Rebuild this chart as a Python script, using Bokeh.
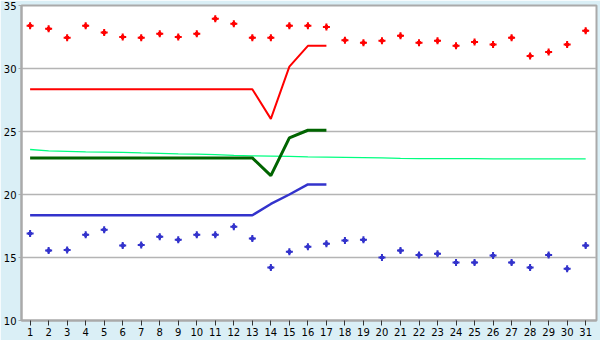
from bokeh.plotting import figure
from bokeh.models import Range1d, FixedTicker
from bokeh.embed import file_html
from bokeh.resources import INLINE

days = list(range(1, 32))
max_temps = [33.4, 33.15, 32.45, 33.4, 32.85, 32.5, 32.45, 32.75, 32.5, 32.75,
             33.95, 33.55, 32.45, 32.45, 33.4, 33.4, 33.3, 32.25, 32.05, 32.2,
             32.6, 32.05, 32.2, 31.8, 32.1, 31.9, 32.45, 31.0, 31.3, 31.9, 33.0]
min_temps = [16.9, 15.55, 15.6, 16.8, 17.2, 15.95, 16.0, 16.65, 16.4, 16.8,
             16.8, 17.45, 16.5, 14.2, 15.45, 15.85, 16.1, 16.35, 16.4, 15.0,
             15.55, 15.2, 15.3, 14.6, 14.6, 15.15, 14.6, 14.2, 15.2, 14.1, 15.95]
normal_mean = [23.57, 23.47, 23.43, 23.38, 23.36, 23.34, 23.30, 23.27, 23.22, 23.20,
               23.17, 23.10, 23.07, 23.05, 23.02, 22.98, 22.96, 22.94, 22.92, 22.90,
               22.87, 22.85, 22.85, 22.84, 22.84, 22.83, 22.83, 22.83, 22.82, 22.82, 22.82]
fc_days = list(range(1, 18))
fc_max = [28.35] * 13 + [26.0, 30.15, 31.8, 31.8]
fc_mean = [22.9] * 13 + [21.5, 24.5, 25.1, 25.1]
fc_min = [18.35] * 13 + [19.25, 20.0, 20.8, 20.8]

p = figure(width=600, height=340, frame_width=575, frame_height=315,
           output_backend="svg", toolbar_location=None,
           x_range=Range1d(0.535, 31.585), y_range=Range1d(10, 35),
           min_border_left=20, min_border_right=5, min_border_top=5, min_border_bottom=20)
p.border_fill_color = "#daeff6"
p.background_fill_color = "white"
p.outline_line_color = "#aaaaaa"
p.outline_line_width = 2

p.xgrid.grid_line_color = None
p.ygrid.grid_line_color = "#b4b4b4"
p.ygrid.grid_line_width = 1.5
p.ygrid.ticker = FixedTicker(ticks=[15, 20, 25, 30])

p.xaxis.ticker = FixedTicker(ticks=days)
p.yaxis.ticker = FixedTicker(ticks=[10, 15, 20, 25, 30, 35])
for ax in (p.xaxis[0], p.yaxis[0]):
    ax.axis_line_color = "#aaaaaa"
    ax.axis_line_width = 2
    ax.major_tick_line_color = "#333333"
    ax.minor_tick_line_color = None
    ax.major_label_text_font = "DejaVu Sans"
    ax.major_label_text_font_size = "10px"
    ax.major_label_text_color = "black"
p.xaxis.major_tick_in = 0
p.xaxis.major_tick_out = 5
p.xaxis.major_label_standoff = 2
p.yaxis.major_tick_in = 0
p.yaxis.major_tick_out = 3
p.yaxis.major_tick_line_color = "#aaaaaa"
p.yaxis.major_label_standoff = 2

p.line(days, normal_mean, line_color="#00ff80", line_width=1.3)
p.line(fc_days, fc_max, line_color="#ff0000", line_width=2)
p.line(fc_days, fc_mean, line_color="#006400", line_width=3)
p.line(fc_days, fc_min, line_color="#3333cc", line_width=2.5)

for vals, col in ((max_temps, "#ff0000"), (min_temps, "#3333cc")):
    p.scatter(days, vals, marker="cross", size=7, line_color=col, line_width=2)
    p.scatter(days, vals, marker="square", size=3.5, angle=0.785, color=col)

open("out.html", "w").write(file_html(p, INLINE))
